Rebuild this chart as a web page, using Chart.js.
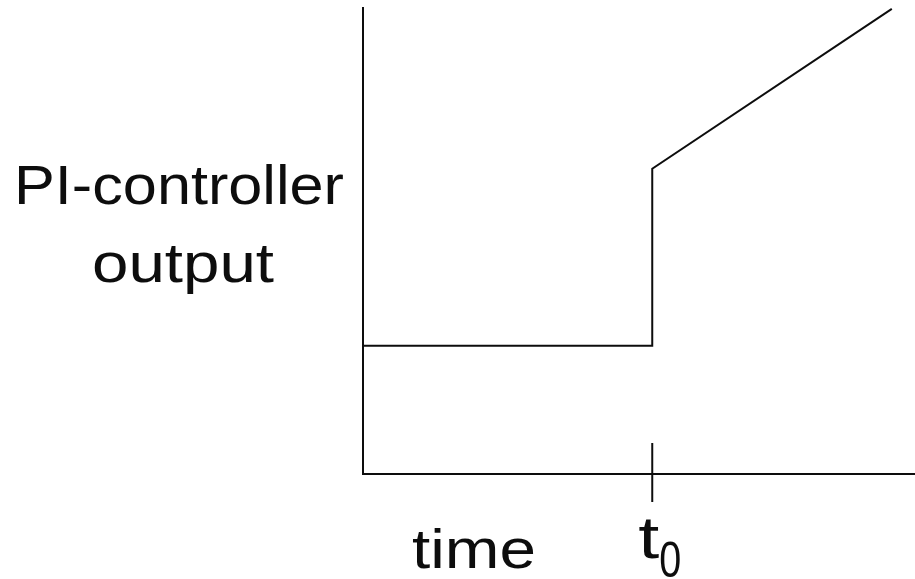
<!DOCTYPE html>
<html>
<head>
<meta charset="utf-8">
<script src="https://cdn.jsdelivr.net/npm/chart.js@4/dist/chart.umd.min.js"></script>
<style>
  html, body { margin: 0; padding: 0; background: #fff; overflow: hidden; }
  canvas { display: block; }
</style>
</head>
<body>
<canvas id="chart" width="915" height="579"></canvas>
<script>
// PI-controller output after a step at t0 (arbitrary units)
const timePoints   = [0, 5.24, 5.24, 9.58];
const outputValues = [2.75, 2.75, 6.55, 9.98];
const stepTime     = 5.24;
const yLabelLines  = ['PI-controller', 'output'];
const xLabel       = 'time';
const stepLabel    = ['t', '0'];

const INK = '#0d0d0d';
const FONT = '"Liberation Sans", Arial, Helvetica, sans-serif';

// canvas text is drawn a bit wider than the font, like the sketch
function stretchedText(ctx, text, x, baseline, size, width, align) {
  ctx.save();
  ctx.font = `${size}px ${FONT}`;
  const sx = width / ctx.measureText(text).width;
  ctx.translate(x, baseline);
  ctx.scale(sx, 1);
  ctx.textAlign = align || 'center';
  ctx.textBaseline = 'alphabetic';
  ctx.fillStyle = INK;
  ctx.fillText(text, 0, 0);
  ctx.restore();
}

const sketchLabels = {
  id: 'sketchLabels',
  afterDraw(chart) {
    const { ctx, chartArea } = chart;
    const tx = chart.scales.x.getPixelForValue(stepTime);

    // tick mark at t0, crossing the time axis
    ctx.save();
    ctx.strokeStyle = INK;
    ctx.lineWidth = 2;
    ctx.beginPath();
    ctx.moveTo(tx, chartArea.bottom - 31);
    ctx.lineTo(tx, chartArea.bottom + 28);
    ctx.stroke();
    ctx.restore();

    stretchedText(ctx, yLabelLines[0], 179, 204, 56, 330);
    stretchedText(ctx, yLabelLines[1], 183, 282, 56, 182);
    stretchedText(ctx, xLabel, 474, 568, 56, 124);
    stretchedText(ctx, stepLabel[0], tx - 14, 558, 60, 21, 'left');
    stretchedText(ctx, stepLabel[1], tx + 7, 577, 50, 22, 'left');
  }
};

new Chart(document.getElementById('chart'), {
  type: 'line',
  data: {
    datasets: [{
      data: timePoints.map((t, i) => ({ x: t, y: outputValues[i] })),
      borderColor: INK,
      borderWidth: 2,
      pointRadius: 0,
      tension: 0,
      fill: false,
      clip: false,
    }],
  },
  options: {
    responsive: false,
    animation: false,
    devicePixelRatio: 1,
    layout: { padding: { left: 355, top: 8, right: 0, bottom: 97 } },
    plugins: {
      legend: { display: false },
      tooltip: { enabled: false },
    },
    scales: {
      x: {
        type: 'linear',
        min: 0,
        max: 10,
        grid: { display: false },
        border: { display: true, color: INK, width: 2 },
        ticks: { display: false },
      },
      y: {
        min: 0,
        max: 10,
        grid: { display: false },
        border: { display: true, color: INK, width: 2 },
        ticks: { display: false },
      },
    },
  },
  plugins: [sketchLabels],
});
</script>
</body>
</html>
